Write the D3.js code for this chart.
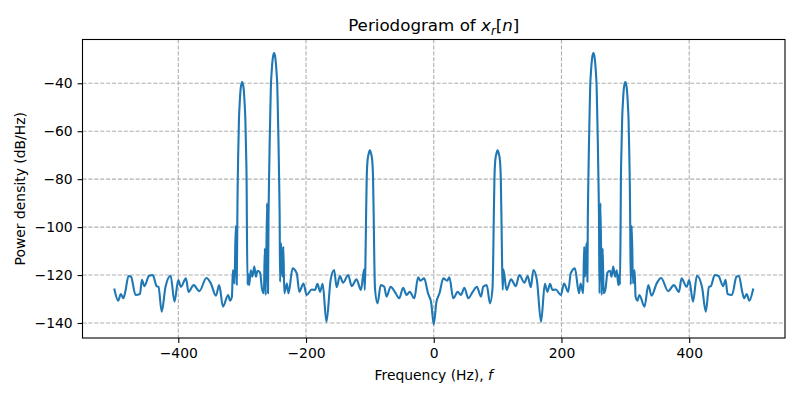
<!DOCTYPE html>
<html>
<head>
<meta charset="utf-8">
<script src="https://cdn.jsdelivr.net/npm/d3@7"></script>
<style>
  body { margin: 0; background: #fff; }
  svg text { font-family: "DejaVu Sans", sans-serif; fill: #000; }
</style>
</head>
<body>
<div class="chart"></div>
<script>
// frequency (Hz) and power density (dB/Hz)
var freqs = [
  -500, -494, -490, -486, -483, -478, -474, -467, -460, -457, -453, -446, -440, -434, -431, -426,
  -420, -412, -406, -400, -396, -388, -384, -376, -367, -356, -349, -341, -336, -330, -322, -319,
  -316, -314.5, -312, -310, -308.5, -307.5, -307, -306, -305, -304, -302, -300, -298, -296, -295,
  -294, -293, -292.5, -291.5, -291, -289, -286.5, -284, -281, -278.5, -276, -272, -269, -266,
  -264.5, -263, -261, -259.5, -258.7, -258, -257, -256, -255, -254, -252, -250, -248, -246, -245,
  -244, -243, -242, -241.3, -240.6, -239, -237, -235.5, -234, -230, -227.5, -221, -214.5, -210.5,
  -204, -199, -191, -186, -182, -178, -174, -168, -161.5, -156, -152, -147, -142, -134, -128.5,
  -121, -114, -109, -108, -107, -106, -105, -103.6, -102, -100, -98, -96.4, -95, -94, -93, -92,
  -88, -83, -77.5, -74, -67.5, -61, -54, -48, -42.5, -37.5, -30.5, -24.5, -21, -15, -9, -4, 0,
  4, 9, 15, 21, 24.5, 30.5, 37.5, 42.5, 48, 54, 61, 67.5, 74, 77.5, 83, 88,
  92, 93, 94, 95, 96.4, 98, 100, 102, 103.6, 105, 106, 107, 108, 109, 114, 121,
  128.5, 134, 142, 147, 152, 156, 161.5, 168, 174, 178, 182, 186, 191, 199, 204,
  210.5, 214.5, 221, 227.5, 230, 234, 235.5, 237, 239, 240.6, 241.3, 242, 243, 244,
  245, 246, 248, 250, 252, 254, 255, 256, 257, 258, 258.7, 259.5, 261, 263, 264.5,
  266, 269, 272, 276, 278.5, 281, 284, 286.5, 289, 291, 291.5, 292.5, 293, 294,
  295, 296, 298, 300, 302, 304, 305, 306, 307, 307.5, 308.5, 310, 312, 314.5, 316,
  319, 322, 330, 336, 341, 349, 356, 367, 376, 384, 388, 396, 400, 406, 412, 420,
  426, 431, 434, 440, 446, 453, 457, 460, 467, 474, 478, 483, 486, 490, 494, 500
];
var power = [
  -126.0, -130.7, -127.9, -129.7, -127.0, -120.4, -120.7, -128.3, -127.9, -122.0, -124.6, -120.4, -120.0, -124.6, -124.9, -135.3,
  -124.9, -120.3, -131.1, -122.1, -124.9, -121.4, -127.0, -124.2, -126.7, -121.2, -123.5, -128.6, -124.2, -133.2, -128.3, -130.7,
  -129.0, -117.9, -123.5, -99.5, -124.0, -95.0, -82.0, -67.0, -55.0, -49.0, -41.5, -39.5, -41.5, -49.0, -55.0,
  -67.0, -82.0, -102.0, -124.0, -119.3, -124.2, -118.0, -120.7, -116.5, -120.7, -118.2, -119.0, -125.6, -127.6,
  -108.9, -128.3, -90.0, -127.6, -95.0, -82.0, -66.0, -53.0, -41.0, -36.0, -29.5, -27.4, -29.5, -36.0, -41.0,
  -53.0, -66.0, -82.0, -95.0, -122.8, -106.8, -120.7, -108.2, -127.6, -123.5, -127.6, -117.2, -119.3, -127.0,
  -123.5, -128.3, -126.0, -126.2, -123.7, -127.0, -123.7, -139.5, -122.1, -117.9, -125.1, -120.4, -123.2, -120.0, -124.6,
  -121.8, -126.2, -117.6, -126.2, -115.0, -96.0, -80.0, -72.0, -69.5, -68.0, -69.5, -72.0, -80.0, -96.0, -115.0, -125.6,
  -131.8, -124.2, -124.9, -129.0, -124.9, -127.0, -129.7, -125.3, -128.3, -127.0, -129.7, -120.9, -122.4, -121.4, -127.6, -131.5, -140.6,
  -131.5, -127.6, -121.4, -122.4, -120.9, -129.7, -127.0, -128.3, -125.3, -129.7, -127.0, -124.9, -129.0, -124.9, -124.2, -131.8,
  -125.6, -115.0, -96.0, -80.0, -72.0, -69.5, -68.0, -69.5, -72.0, -80.0, -96.0, -115.0, -126.2, -117.6, -126.2, -121.8,
  -124.6, -120.0, -123.2, -120.4, -125.1, -117.9, -122.1, -139.5, -123.7, -127.0, -123.7, -126.2, -126.0, -128.3, -123.5,
  -127.0, -119.3, -117.2, -127.6, -123.5, -127.6, -108.2, -120.7, -106.8, -122.8, -95.0, -82.0, -66.0, -53.0,
  -41.0, -36.0, -29.5, -27.4, -29.5, -36.0, -41.0, -53.0, -66.0, -82.0, -95.0, -127.6, -90.0, -128.3, -108.9,
  -127.6, -125.6, -119.0, -118.2, -120.7, -116.5, -120.7, -118.0, -124.2, -119.3, -124.0, -102.0, -82.0, -67.0,
  -55.0, -49.0, -41.5, -39.5, -41.5, -49.0, -55.0, -67.0, -82.0, -95.0, -124.0, -99.5, -123.5, -117.9, -129.0,
  -130.7, -128.3, -133.2, -124.2, -128.6, -123.5, -121.2, -126.7, -124.2, -127.0, -121.4, -124.9, -122.1, -131.1, -120.3, -124.9,
  -135.3, -124.9, -124.6, -120.0, -120.4, -124.6, -122.0, -127.9, -128.3, -120.7, -120.4, -127.0, -129.7, -127.9, -130.7, -126.0
];
var xTicks = [-400, -200, 0, 200, 400];
var yTicks = [-140, -120, -100, -80, -60, -40];

var data = freqs.map(function(f, i) { return { f: f, p: power[i] }; });

var W = 800, H = 400;
var margins = { top: 39.5, right: 15, bottom: 62, left: 82.5 };
var width = W - margins.left - margins.right;
var height = H - margins.top - margins.bottom;

// 5% padding like matplotlib autoscale
var xExt = d3.extent(freqs), yExt = d3.extent(power);
var xPad = (xExt[1] - xExt[0]) * 0.05, yPad = (yExt[1] - yExt[0]) * 0.05;

var x = d3.scaleLinear().domain([xExt[0] - xPad, xExt[1] + xPad]).range([0, width]);
var y = d3.scaleLinear().domain([yExt[0] - yPad, yExt[1] + yPad]).range([height, 0]);

var fmt = function(d) { return d < 0 ? '\u2212' + Math.abs(d) : String(d); };

var svg = d3.select('.chart').append('svg')
  .attr('width', W)
  .attr('height', H);

var graph = svg.append('g')
  .attr('transform', 'translate(' + margins.left + ',' + margins.top + ')');

// grid
graph.append('g').selectAll('line').data(xTicks).enter().append('line')
  .attr('x1', function(d) { return x(d); }).attr('x2', function(d) { return x(d); })
  .attr('y1', 0).attr('y2', height)
  .attr('stroke', '#b0b0b0').attr('stroke-width', 1.1).attr('stroke-dasharray', '4.1,1.8');
graph.append('g').selectAll('line').data(yTicks).enter().append('line')
  .attr('y1', function(d) { return y(d); }).attr('y2', function(d) { return y(d); })
  .attr('x1', 0).attr('x2', width)
  .attr('stroke', '#b0b0b0').attr('stroke-width', 1.1).attr('stroke-dasharray', '4.1,1.8');

var xAxis = d3.axisBottom(x).tickValues(xTicks).tickFormat(fmt).tickSize(4.9).tickPadding(4.9);
var yAxis = d3.axisLeft(y).tickValues(yTicks).tickFormat(fmt).tickSize(4.9).tickPadding(4.9);

var gx = graph.append('g')
  .attr('transform', 'translate(0,' + height + ')')
  .call(xAxis);
var gy = graph.append('g').call(yAxis);
[gx, gy].forEach(function(g) {
  g.select('.domain').remove();
  g.selectAll('.tick line').attr('stroke', '#000').attr('stroke-width', 1.1);
  g.selectAll('.tick text').attr('font-size', 13.9).attr('font-family', 'DejaVu Sans').attr('fill', '#000');
});

// monotone keeps the rounded look of the noise floor without overshoot
var line = d3.line()
  .curve(d3.curveMonotoneX)
  .x(function(d) { return x(d.f); })
  .y(function(d) { return y(d.p); });

graph.append('path')
  .attr('d', line(data))
  .attr('fill', 'none')
  .attr('stroke', '#1f77b4')
  .attr('stroke-width', 2.1)
  .attr('stroke-linejoin', 'round')
  .attr('stroke-linecap', 'square');

// frame
graph.append('rect')
  .attr('width', width).attr('height', height)
  .attr('fill', 'none').attr('stroke', '#000').attr('stroke-width', 1.1);

// title with math style x_r[n]
var title = svg.append('text')
  .attr('x', margins.left + width / 2).attr('y', 31)
  .attr('text-anchor', 'middle').attr('font-size', 16.7);
title.append('tspan').text('Periodogram of ');
title.append('tspan').attr('font-style', 'italic').text('x');
title.append('tspan').attr('font-style', 'italic').attr('font-size', 11.7).attr('dy', 3.5).text('r');
title.append('tspan').attr('dy', -3.5).text('[');
title.append('tspan').attr('font-style', 'italic').text('n');
title.append('tspan').text(']');

var xl = svg.append('text')
  .attr('x', margins.left + width / 2).attr('y', 380)
  .attr('text-anchor', 'middle').attr('font-size', 13.9);
xl.append('tspan').text('Frequency (Hz), ');
xl.append('tspan').attr('font-style', 'italic').text('f');

svg.append('text')
  .attr('transform', 'translate(25,' + (margins.top + height / 2) + ') rotate(-90)')
  .attr('text-anchor', 'middle').attr('font-size', 13.9)
  .text('Power density (dB/Hz)');
</script>
</body>
</html>
